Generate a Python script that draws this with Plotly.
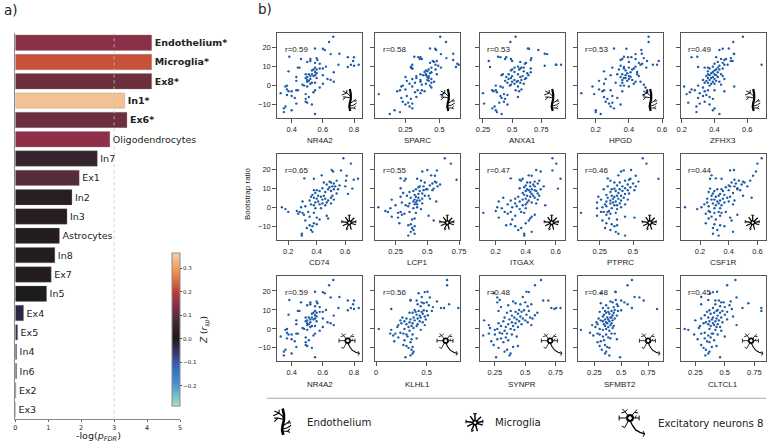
import plotly.graph_objects as go

# left panel
cell_types = ['Endothelium*', 'Microglia*', 'Ex8*', 'In1*', 'Ex6*', 'Oligodendrocytes', 'In7', 'Ex1', 'In2', 'In3',
              'Astrocytes', 'In8', 'Ex7', 'In5', 'Ex4', 'Ex5', 'In4', 'In6', 'Ex2', 'Ex3']
log_p = [4.14, 4.14, 4.14, 3.32, 3.39, 2.87, 2.49, 1.94, 1.72, 1.57,
         1.34, 1.2, 1.09, 0.95, 0.25, 0.07, 0.04, 0.04, 0.02, 0.005]
z_rsp = [0.145, 0.22, 0.115, 0.345, 0.115, 0.15, 0.055, 0.09, 0.025, 0.022,
         0.015, 0.015, 0.015, 0.005, -0.03, -0.05, -0.05, -0.07, -0.08, -0.1]

# right panels, bootstrap ratio is the same genes in every panel
boot_ratio = [25.8, 23, 19.6, 19.4, 18.8, 16.8, 16.6, 15.2, 15, 15,
              14.5, 14, 14, 13.5, 13, 13, 12.5, 12, 11.5, 11,
              11, 11, 10.5, 10, 9.8, 9.5, 9.5, 9.5, 9, 9,
              8.5, 8.5, 8, 7.5, 7.2, 7, 6.5, 6, 6, 6,
              5.5, 5.5, 5, 5, 4.5, 4.5, 4, 4, 3.5, 3.5,
              3, 3, 2.5, 2.5, 2, 2, 1.5, 1.5, 1, 1,
              0.5, 0, 0, -0.5, -0.5, -1, -2, -2.5, -2.5, -2.5,
              -3, -3, -3.5, -4, -4.5, -5, -5.5, -6, -6.5, -7,
              -8.5, -9, -9.5, -10, -11, -12, -13, -14, -15]

nr4a2 = [.667, .64, .55, .60, .612, .706, .65, .385, .76, .80,
         .56, .46, .52, .565, .794, .52, .50, .55, .58, .70,
         .78, .83, .80, .62, .76, .44, .45, .55, .60, .58,
         .54, .56, .53, .38, .55, .67, .56, .49, .51, .53,
         .55, .60, .52, .54, .50, .43, .49, .56, .63, .52,
         .50, .65, .51, .43, .50, .67, .53, .55, .52, .60,
         .47, .48, .37, .36, .50, .58, .37, .43, .44, .55,
         .38, .40, .54, .33, .49, .37, .40, .51, .42, .49,
         .49, .50, .43, .53, .36, .35, .40, .35, .55]
sparc = [.505, .547, .43, .468, .475, .60, .51, .315, .345, .36,
         .55, .355, .37, .60, .45, .48, .46, .43, .63, .64,
         .30, .47, .49, .29, .62, .29, .51, .44, .30, .30,
         .42, .47, .40, .41, .39, .44, .43, .40, .36, .48,
         .38, .40, .42, .33, .25, .41, .33, .42, .30, .44,
         .41, .36, .26, .42, .36, .46, .32, .44, .28, .40,
         .37, .23, .43, .22, .30, .44, .25, .21, .34, .37,
         .19, .39, .32, .36, .054, .52, .26, .33, .22, .29,
         .23, .27, .30, .25, .28, .30, .17, .21, .135]
anxa1 = [.53, .485, .635, .645, .725, .78, .80, .38, .40, .45,
         .665, .44, .49, .66, .30, .50, .57, .62, .61, .92,
         .875, .88, .78, .55, .31, .58, .52, .60, .57, .66,
         .50, .56, .49, .60, .52, .66, .63, .47, .42, .55,
         .41, .64, .50, .59, .57, .45, .62, .49, .61, .47,
         .52, .58, .44, .55, .50, .54, .57, .46, .52, .60,
         .49, .36, .48, .40, .55, .42, .58, .33, .36, .53,
         .34, .56, .37, .25, .43, .46, .40, .55, .41, .44,
         .43, .39, .26, .46, .35, .33, .36, .37, .41]
hpgd = [.519, .519, .31, .385, .475, .478, .44, .37, .395, .415,
        .49, .36, .44, .35, .58, .51, .40, .46, .48, .57,
        .545, .47, .35, .44, .37, .505, .30, .40, .37, .43,
        .34, .42, .38, .25, .45, .41, .39, .36, .33, .45,
        .29, .38, .46, .40, .35, .41, .37, .38, .40, .26,
        .36, .42, .22, .39, .44, .47, .36, .32, .43, .25,
        .49, .37, .35, .18, .40, .50, .22, .51, .29, .25,
        .24, .36, .51, .113, .19, .49, .30, .25, .33, .27,
        .26, .30, .28, .35, .29, .31, .20, .20, .23]
zfhx3 = [.573, .514, .487, .45, .43, .518, .52, .295, .26, .41,
         .50, .44, .47, .46, .51, .50, .42, .45, .40, .48,
         .46, .687, .43, .39, .30, .34, .36, .42, .45, .37,
         .41, .43, .40, .36, .39, .42, .38, .44, .36, .40,
         .37, .41, .35, .45, .39, .42, .36, .38, .40, .46,
         .33, .37, .41, .35, .39, .43, .36, .34, .40, .38,
         .44, .30, .37, .215, .52, .33, .26, .36, .40, .28,
         .34, .46, .25, .31, .23, .35, .33, .37, .30, .39,
         .34, .24, .31, .37, .29, .40, .39, .29, .43]
cd74 = [.587, .64, .505, .57, .515, .435, .61, .313, .38, .69,
        .66, .605, .54, .49, .45, .50, .52, .47, .56, .60,
        .51, .53, .49, .44, .65, .55, .48, .52, .38, .40,
        .42, .50, .46, .39, .54, .62, .37, .41, .45, .51,
        .36, .43, .50, .38, .46, .40, .52, .44, .35, .48,
        .30, .41, .47, .39, .44, .50, .36, .42, .38, .46,
        .32, .155, .29, .39, .43, .18, .26, .20, .28, .34,
        .30, .38, .27, .31, .47, .35, .40, .48, .42, .32,
        .38, .40, .35, .37, .33, .36, .37, .295, .295]
lcp1 = [.637, .685, .50, .575, .46, .53, .56, .29, .33, .42,
        .73, .32, .45, .56, .57, .48, .54, .60, .52, .47,
        .58, .44, .43, .29, .55, .49, .41, .50, .47, .54,
        .39, .44, .36, .31, .46, .43, .40, .51, .48, .34,
        .41, .29, .43, .37, .46, .52, .40, .22, .44, .42,
        .39, .57, .30, .41, .46, .36, .42, .40, .25, .33,
        .35, .115, .42, .21, .39, .45, .17, .19, .29, .36,
        .27, .41, .32, .30, .51, .22, .27, .40, .38, .55,
        .28, .37, .35, .40, .38, .39, .37, .40, .35]
itgax = [.578, .604, .47, .578, .50, .42, .44, .30, .38, .632,
         .36, .37, .49, .46, .41, .43, .48, .45, .40, .43,
         .52, .46, .39, .36, .615, .50, .41, .44, .46, .42,
         .40, .47, .43, .38, .48, .44, .39, .45, .49, .41,
         .35, .43, .25, .46, .40, .33, .38, .48, .42, .30,
         .22, .36, .44, .41, .47, .33, .28, .40, .38, .53,
         .34, .21, .31, .24, .40, .36, .20, .26, .37, .30,
         .117, .39, .28, .46, .33, .44, .22, .43, .31, .42,
         .40, .30, .27, .33, .37, .35, .44, .39, .39]
ptprc = [.572, .60, .485, .43, .41, .39, .52, .31, .48, .69,
         .47, .33, .44, .54, .36, .40, .50, .46, .38, .52,
         .31, .42, .48, .44, .36, .40, .28, .34, .46, .51,
         .37, .42, .33, .39, .47, .44, .30, .38, .41, .34,
         .24, .36, .43, .31, .39, .35, .46, .26, .33, .41,
         .37, .30, .23, .35, .40, .33, .29, .44, .36, .38,
         .30, .27, .41, .23, .34, .38, .32, .28, .26, .31,
         .37, .11, .33, .30, .23, .44, .51, .32, .38, .27,
         .30, .34, .38, .36, .29, .33, .37, .39, .44]
csf1r = [.63, .60, .437, .41, .59, .28, .57, .31, .35, .27,
         .44, .47, .55, .50, .42, .51, .45, .49, .40, .53,
         .41, .44, .38, .46, .27, .35, .32, .46, .48, .40,
         .36, .30, .26, .43, .29, .34, .37, .50, .28, .33,
         .41, .31, .39, .56, .25, .36, .30, .28, .44, .34,
         .32, .40, .25, .37, .29, .33, .43, .23, .31, .35,
         .26, .095, .21, .34, .30, .18, .26, .38, .33, .27,
         .35, .30, .24, .46, .34, .28, .41, .26, .31, .42,
         .24, .30, .34, .37, .29, .32, .43, .29, .33]
klhl1 = [.70, .70, .507, .48, .42, .45, .53, .34, .34, .40,
         .60, .45, .50, .47, .72, .41, .52, .44, .56, .81,
         .64, .67, .15, .38, .47, .42, .50, .55, .45, .39,
         .36, .33, .46, .40, .51, .43, .48, .26, .37, .44,
         .30, .41, .34, .49, .24, .38, .43, .28, .33, .46,
         .36, .25, .41, .30, .48, .22, .35, .40, .21, .32,
         .37, .027, .28, .15, .44, .33, .24, .14, .27, .19,
         .36, .30, .17, .31, .22, .40, .35, .28, .18, .34,
         .27, .30, .36, .32, .35, .37, .36, .34, .29]
synpr = [.63, .58, .51, .53, .24, .48, .27, .29, .648, .69,
         .40, .50, .27, .42, .55, .46, .36, .52, .30, .79,
         .755, .715, .74, .45, .49, .38, .53, .28, .42, .47,
         .60, .35, .44, .51, .58, .39, .46, .33, .54, .41,
         .48, .56, .37, .43, .50, .162, .32, .45, .39, .52,
         .28, .42, .47, .36, .55, .20, .40, .30, .44, .34,
         .21, .27, .38, .25, .41, .33, .29, .31, .35, .20,
         .39, .25, .154, .43, .34, .30, .27, .36, .22, .32,
         .24, .44, .40, .28, .35, .33, .38, .37, .26]
sfmbt2 = [.60, .56, .445, .45, .31, .625, .67, .45, .71, .50,
          .40, .42, .53, .31, .46, .56, .36, .47, .43, .60,
          .38, .33, .835, .44, .50, .35, .41, .47, .38, .30,
          .43, .36, .39, .34, .42, .46, .33, .41, .37, .40,
          .44, .29, .38, .35, .31, .42, .39, .33, .36, .27,
          .41, .37, .28, .34, .40, .23, .43, .35, .26, .38,
          .42, .30, .36, .125, .33, .39, .21, .28, .41, .44,
          .36, .30, .24, .33, .38, .40, .46, .34, .31, .28,
          .35, .30, .37, .39, .32, .36, .35, .39, .49]
cltcl1 = [.59, .52, .435, .40, .375, .30, .60, .36, .42, .45,
          .55, .49, .47, .70, .30, .42, .54, .46, .50, .81,
          .65, .40, .56, .44, .37, .48, .81, .43, .52, .35,
          .41, .46, .38, .50, .33, .44, .57, .40, .47, .36,
          .43, .30, .39, .52, .45, .25, .42, .37, .34, .48,
          .40, .32, .44, .36, .60, .41, .29, .38, .46, .43,
          .28, .16, .37, .42, .19, .47, .33, .30, .40, .39,
          .24, .44, .36, .50, .38, .33, .27, .41, .35, .37,
          .30, .43, .39, .32, .34, .37, .36, .335, .46]

genes = ['NR4A2', 'SPARC', 'ANXA1', 'HPGD', 'ZFHX3',
         'CD74', 'LCP1', 'ITGAX', 'PTPRC', 'CSF1R',
         'NR4A2', 'KLHL1', 'SYNPR', 'SFMBT2', 'CLTCL1']
gene_x = [nr4a2, sparc, anxa1, hpgd, zfhx3,
          cd74, lcp1, itgax, ptprc, csf1r,
          nr4a2, klhl1, synpr, sfmbt2, cltcl1]
r_labels = ['r=0.59', 'r=0.58', 'r=0.53', 'r=0.53', 'r=0.49',
            'r=0.65', 'r=0.55', 'r=0.47', 'r=0.46', 'r=0.44',
            'r=0.59', 'r=0.56', 'r=0.48', 'r=0.48', 'r=0.45']
x_ticks = [[0.4, 0.6, 0.8], [0.25, 0.5], [0.25, 0.5, 0.75], [0.2, 0.4, 0.6], [0.2, 0.4, 0.6],
           [0.2, 0.4, 0.6], [0.25, 0.5, 0.75], [0.2, 0.4, 0.6], [0.25, 0.5], [0.2, 0.4, 0.6],
           [0.4, 0.6, 0.8], [0, 0.5], [0.25, 0.5, 0.75], [0.25, 0.5, 0.75], [0.25, 0.5, 0.75]]
x_ranges = [[.308, .853], [.029, .652], [.222, .951], [.091, .604], [.194, .712],
            [.123, .72], [.091, .759], [.093, .66], [.085, .722], [.065, .658],
            [.308, .853], [-.007, .83], [.125, .825], [.095, .887], [.126, .847]]

W, H = 768, 444
BLUE = '#1f5ca8'
TEXT = '#222222'
SANS = 'Liberation Sans'
DEJA = 'DejaVu Sans'

# colorbar stops by value, black sits at zero
z_min, z_max = -0.286, 0.365
z_stops = [(-0.286, '#a8dcd4'), (-0.2, '#4a9cc8'), (-0.15, '#3a78c8'), (-0.1, '#3f55a8'), (-0.05, '#33315f'),
           (0, '#1c1a1e'), (0.05, '#32242a'), (0.1, '#5e2e3a'), (0.15, '#8f3048'), (0.2, '#b83c3c'),
           (0.25, '#e0703a'), (0.3, '#f0a060'), (0.365, '#f6cfa8')]
colorscale = [[(v - z_min) / (z_max - z_min), c] for v, c in z_stops]

def px(x):
  return x / W

def py(y):
  return 1 - y / H

# icons as polylines around their center, in pixels
ENDO = [
  (2.2, [(0, -11), (1, -6), (1, -1), (0, 3), (-0.5, 7), (0.5, 11)]),
  (0.9, [(0.5, -4), (-3, -7), (-7, -9)]), (0.9, [(-3, -7), (-3, -10)]), (0.9, [(-3, -7), (-8, -5)]),
  (0.9, [(0.5, -2), (-4, -3), (-7, -3)]), (0.9, [(-4, -3), (-7, 0)]),
  (0.9, [(1, 3), (4, 1), (6, -1)]), (0.9, [(4, 1), (7, 1)]),
  (0.9, [(0.5, 6), (4, 5), (7, 3)]), (0.9, [(0.5, 8), (4, 8), (6, 9)]), (0.9, [(4, 8), (6, 6)]),
]
MICRO = [(1.2, [(0, 0), p]) for p in
         [(0, -7.5), (5, -5), (6.5, -1), (6.5, 2), (2, 7), (-3, 6.5), (-6.5, 3), (-7.5, -1), (-4, -5.5)]]
MICRO += [(0.9, [(-1.5, -7.5), (1.5, -7.5)]), (0.9, [(-3, 7.5), (-1, 6)]), (0.9, [(6.5, -2.5), (6.5, 0.5)]), (0.9, [(-7.5, -2.5), (-7.5, 0.5)])]
NEURON = [
  (0.8, [(0, 0), (-8.7, 0)]), (0.8, [(-8.7, -2), (-8.7, 2)]),
  (0.8, [(0, 0), (7.3, 0)]), (0.8, [(7.3, -2), (7.3, 2)]), (0.8, [(4, 0), (5, -2)]),
  (0.8, [(0, 0), (-4, -5), (-6, -7.3)]), (0.8, [(-4, -5), (-2, -7)]), (0.8, [(-4, -5), (-7, -4)]),
  (0.8, [(0, 0), (3.5, -4.5), (5.7, -6.7)]), (0.8, [(3.5, -4.5), (6.5, -4)]),
  (0.8, [(0, 0), (-4.3, 7.7)]), (0.8, [(-4.3, 7.7), (-6.5, 6.5)]),
  (1.1, [(0, 2), (2, 6), (4.5, 9.5), (8, 11.5), (11.7, 12.7)]), (0.8, [(10.5, 10.5), (11.7, 12.7), (10.5, 15)]),
]

def icon_shapes(lines, cx, cy, scale=1, ring=None):
  shapes = []
  for width, pts in lines:
    path = ' '.join(('M' if i == 0 else 'L') + f' {px(cx + a * scale):.5f} {py(cy + b * scale):.5f}'
                    for i, (a, b) in enumerate(pts))
    shapes.append(dict(type='path', xref='paper', yref='paper', path=path,
                       line=dict(color='black', width=width * scale), layer='above'))
  if ring:
    for r, color in ((ring * scale, 'black'), (ring * scale * 0.4, 'white')):
      shapes.append(dict(type='circle', xref='paper', yref='paper', x0=px(cx - r), x1=px(cx + r),
                         y0=py(cy + r), y1=py(cy - r), fillcolor=color, line=dict(color=color, width=0.5), layer='above'))
  return shapes

fig = go.Figure()

# bars
fig.add_trace(go.Bar(
  x=log_p, y=cell_types, orientation='h', width=0.8, xaxis='x', yaxis='y',
  marker=dict(color=z_rsp, cmin=z_min, cmax=z_max, colorscale=colorscale,
              line=dict(color='rgba(130,130,130,0.6)', width=0.5),
              colorbar=dict(x=px(171.7), xanchor='left', xpad=0, ypad=0, y=py(329.3), yanchor='middle',
                            thicknessmode='pixels', thickness=8.3, lenmode='pixels', len=153.3,
                            outlinecolor='#8a8a8a', outlinewidth=1,
                            tickvals=[-0.2, -0.1, 0, 0.1, 0.2, 0.3], tickformat='.1f',
                            ticks='outside', ticklen=2, tickcolor='#444', tickwidth=0.7,
                            tickfont=dict(family=DEJA, size=5.5, color=TEXT))),
  text=[f'<b>{c}</b>' if c.endswith('*') else c for c in cell_types],
  textposition='outside', constraintext='none', cliponaxis=False,
  textfont=dict(family=DEJA, size=9.5, color='#222222'), hoverinfo='skip',
))

layout = dict(
  width=W, height=H, autosize=False, margin=dict(l=0, r=0, t=0, b=0, autoexpand=False), showlegend=False,
  plot_bgcolor='white', paper_bgcolor='white',
  bargap=0.2,
  xaxis=dict(domain=[px(15.3), px(180)], range=[0, 5], tickvals=[0, 1, 2, 3, 4, 5], showgrid=False, zeroline=False,
             showline=True, linecolor='#8a8a8a', linewidth=1.2, ticks='outside', ticklen=2, tickcolor='#666', tickwidth=0.7,
             tickfont=dict(family=DEJA, size=6.5, color=TEXT), anchor='y'),
  yaxis=dict(domain=[py(419.3), py(33)], range=[19.5, -0.5], showticklabels=False, ticks='', showgrid=False,
             zeroline=False, showline=True, linecolor='#8a8a8a', linewidth=1.2, anchor='x', type='category',
             categoryorder='array', categoryarray=cell_types),
)

shapes = [dict(type='line', xref='x', yref='paper', x0=3, x1=3, y0=py(419.3), y1=py(33),
               line=dict(color='rgba(195,195,195,0.8)', width=1, dash='dot'), layer='above'),
          dict(type='line', xref='paper', yref='paper', x0=px(266.7), x1=px(766), y0=py(398.3), y1=py(398.3),
               line=dict(color='#aaaaaa', width=1))]

annotations = []

def add_text(text, x, y, size, family=SANS, color=TEXT, xanchor='left', angle=0):
  annotations.append(dict(text=text, xref='paper', yref='paper', x=px(x), y=py(y), xanchor=xanchor, yanchor='middle',
                          showarrow=False, textangle=angle, font=dict(family=family, size=size, color=color)))

add_text('a)', 2, 10, 13.5, DEJA)
add_text('b)', 256, 9, 13.5, DEJA)
add_text('-log(<i>p<sub>FDR</sub></i>)', 98, 436, 9.5, DEJA, xanchor='center')
add_text('<i>Z</i> (<i>r<sub>sp</sub></i>)', 205, 330, 9, DEJA, xanchor='center', angle=-90)
add_text('Bootstrap ratio', 247, 194, 8, xanchor='center', angle=-90)

# scatter grid
col_left = [277.3, 375.3, 479.7, 577.7, 680.7]
row_top = [32.7, 154.3, 276]
row_icons = [(ENDO, 72.5, 100, None), (MICRO, 72, 222.7, 2.2), (NEURON, 70.4, 340.7, 3)]

for i, gene in enumerate(genes):
  row, col = divmod(i, 5)
  left, top = col_left[col], row_top[row]
  n = i + 2
  fig.add_trace(go.Scatter(x=gene_x[i], y=boot_ratio, mode='markers', xaxis=f'x{n}', yaxis=f'y{n}',
                           marker=dict(size=2.4, color=BLUE), hoverinfo='skip'))
  layout[f'xaxis{n}'] = dict(domain=[px(left), px(left + 85)], range=x_ranges[i], anchor=f'y{n}',
                             tickvals=x_ticks[i], ticktext=[f'{t:g}' for t in x_ticks[i]],
                             showgrid=False, zeroline=False, showline=True, mirror=True, linecolor='#555555', linewidth=1,
                             ticks='outside', ticklen=4, tickcolor='#555555', tickwidth=1,
                             tickfont=dict(family=SANS, size=7.5, color=TEXT))
  layout[f'yaxis{n}'] = dict(domain=[py(top + 85.3), py(top)], range=[-17.1, 27.9], anchor=f'x{n}',
                             tickvals=[-10, 0, 10, 20], showticklabels=col == 0,
                             showgrid=False, zeroline=False, showline=True, mirror=True, linecolor='#555555', linewidth=1,
                             ticks='outside', ticklen=4, tickcolor='#555555', tickwidth=1,
                             tickfont=dict(family=SANS, size=7.5, color=TEXT))
  add_text(gene, left + 42.5, top + 108, 8, xanchor='center')
  add_text(r_labels[i], left + 5.5, top + 16.6, 8)
  icon, dx, cy, ring = row_icons[row]
  shapes += icon_shapes(icon, left + dx, cy, ring=ring)

# legend row under the grid
shapes += icon_shapes(ENDO, 282.7, 421.7, 1.2)
shapes += icon_shapes(MICRO, 475, 422.7, 1.2, ring=2.2)
shapes += icon_shapes(NEURON, 630, 418, 1.25, ring=3)
add_text('Endothelium', 305, 422.7, 10.2, DEJA)
add_text('Microglia', 493, 422.7, 10.2, DEJA)
add_text('Excitatory neurons 8', 655.7, 423, 10.2, DEJA)

layout['shapes'] = shapes
layout['annotations'] = annotations
fig.update_layout(**layout)

# page has a default body margin that would push the figure off the window
fig.write_html('out.html', config={'displayModeBar': False},
               post_script="document.body.style.margin='0';document.documentElement.style.overflow='hidden';")
